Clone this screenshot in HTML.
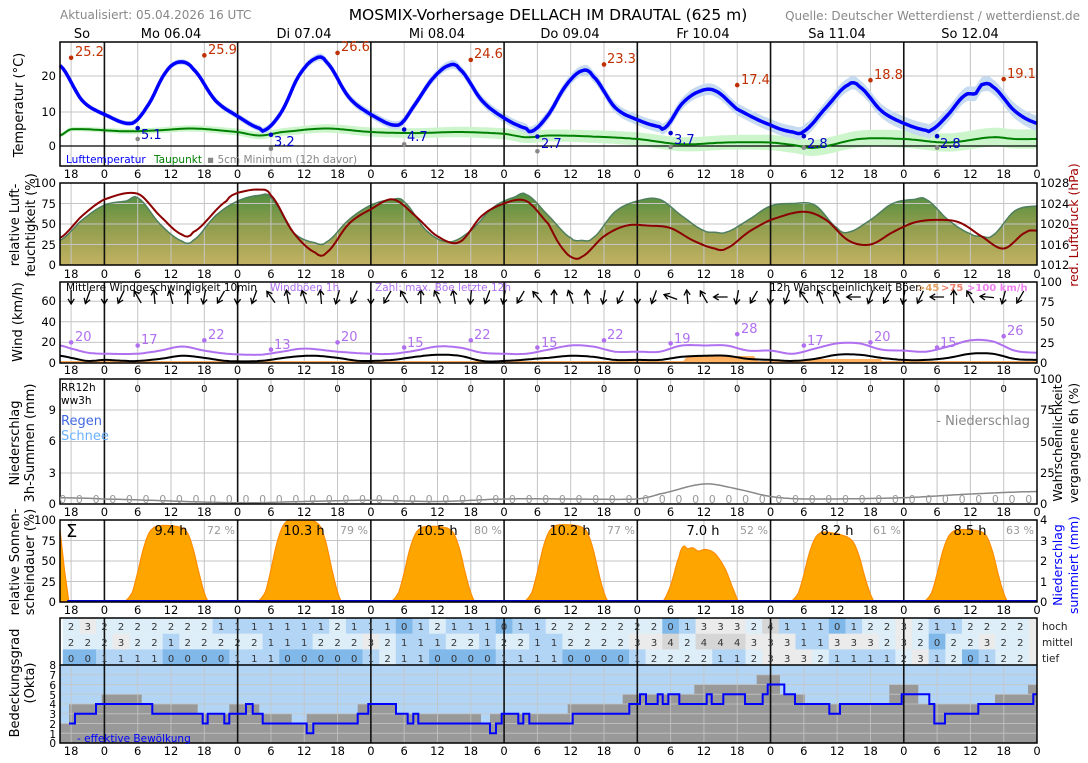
<!DOCTYPE html>
<html><head><meta charset="utf-8">
<style>
html,body{margin:0;padding:0;background:#fff;}
svg{display:block;font-family:"DejaVu Sans","Liberation Sans",sans-serif;}
</style></head>
<body>
<svg id="s" width="1088" height="763" viewBox="0 0 1088 763" xmlns="http://www.w3.org/2000/svg">
<defs>
<linearGradient id="hg" x1="0" y1="183" x2="0" y2="265" gradientUnits="userSpaceOnUse">
<stop offset="0" stop-color="#3f8a3c"/><stop offset="0.5" stop-color="#8c9c4c"/><stop offset="1" stop-color="#c2b262"/>
</linearGradient>
</defs>
<g id="g"></g>
<g id="txt">
<text x="60" y="19" font-size="12" fill="#888">Aktualisiert: 05.04.2026 16 UTC</text>
<text x="548" y="20" font-size="15.5" text-anchor="middle" fill="#000">MOSMIX-Vorhersage DELLACH IM DRAUTAL (625 m)</text>
<text x="1080" y="20" font-size="12" text-anchor="end" fill="#888">Quelle: Deutscher Wetterdienst / wetterdienst.de</text>
<g font-size="13" text-anchor="middle">
<text x="82" y="38">So</text><text x="171" y="38">Mo 06.04</text><text x="304" y="38">Di 07.04</text><text x="437" y="38">Mi 08.04</text><text x="570" y="38">Do 09.04</text><text x="703" y="38">Fr 10.04</text><text x="837" y="38">Sa 11.04</text><text x="970" y="38">So 12.04</text>
</g>
<g font-size="11.5" text-anchor="middle" fill="#000">
<text y="178"><tspan x="71.1">18</tspan><tspan x="104.4">0</tspan><tspan x="137.7">6</tspan><tspan x="171">12</tspan><tspan x="204.3">18</tspan><tspan x="237.6">0</tspan><tspan x="270.9">6</tspan><tspan x="304.2">12</tspan><tspan x="337.6">18</tspan><tspan x="370.9">0</tspan><tspan x="404.2">6</tspan><tspan x="437.5">12</tspan><tspan x="470.8">18</tspan><tspan x="504.1">0</tspan><tspan x="537.4">6</tspan><tspan x="570.7">12</tspan><tspan x="604">18</tspan><tspan x="637.3">0</tspan><tspan x="670.6">6</tspan><tspan x="703.9">12</tspan><tspan x="737.2">18</tspan><tspan x="770.5">0</tspan><tspan x="803.8">6</tspan><tspan x="837.2">12</tspan><tspan x="870.5">18</tspan><tspan x="903.8">0</tspan><tspan x="937.1">6</tspan><tspan x="970.4">12</tspan><tspan x="1003.7">18</tspan><tspan x="1037">0</tspan></text>
<text y="278"><tspan x="71.1">18</tspan><tspan x="104.4">0</tspan><tspan x="137.7">6</tspan><tspan x="171">12</tspan><tspan x="204.3">18</tspan><tspan x="237.6">0</tspan><tspan x="270.9">6</tspan><tspan x="304.2">12</tspan><tspan x="337.6">18</tspan><tspan x="370.9">0</tspan><tspan x="404.2">6</tspan><tspan x="437.5">12</tspan><tspan x="470.8">18</tspan><tspan x="504.1">0</tspan><tspan x="537.4">6</tspan><tspan x="570.7">12</tspan><tspan x="604">18</tspan><tspan x="637.3">0</tspan><tspan x="670.6">6</tspan><tspan x="703.9">12</tspan><tspan x="737.2">18</tspan><tspan x="770.5">0</tspan><tspan x="803.8">6</tspan><tspan x="837.2">12</tspan><tspan x="870.5">18</tspan><tspan x="903.8">0</tspan><tspan x="937.1">6</tspan><tspan x="970.4">12</tspan><tspan x="1003.7">18</tspan><tspan x="1037">0</tspan></text>
<text y="374"><tspan x="71.1">18</tspan><tspan x="104.4">0</tspan><tspan x="137.7">6</tspan><tspan x="171">12</tspan><tspan x="204.3">18</tspan><tspan x="237.6">0</tspan><tspan x="270.9">6</tspan><tspan x="304.2">12</tspan><tspan x="337.6">18</tspan><tspan x="370.9">0</tspan><tspan x="404.2">6</tspan><tspan x="437.5">12</tspan><tspan x="470.8">18</tspan><tspan x="504.1">0</tspan><tspan x="537.4">6</tspan><tspan x="570.7">12</tspan><tspan x="604">18</tspan><tspan x="637.3">0</tspan><tspan x="670.6">6</tspan><tspan x="703.9">12</tspan><tspan x="737.2">18</tspan><tspan x="770.5">0</tspan><tspan x="803.8">6</tspan><tspan x="837.2">12</tspan><tspan x="870.5">18</tspan><tspan x="903.8">0</tspan><tspan x="937.1">6</tspan><tspan x="970.4">12</tspan><tspan x="1003.7">18</tspan><tspan x="1037">0</tspan></text>
<text y="516"><tspan x="71.1">18</tspan><tspan x="104.4">0</tspan><tspan x="137.7">6</tspan><tspan x="171">12</tspan><tspan x="204.3">18</tspan><tspan x="237.6">0</tspan><tspan x="270.9">6</tspan><tspan x="304.2">12</tspan><tspan x="337.6">18</tspan><tspan x="370.9">0</tspan><tspan x="404.2">6</tspan><tspan x="437.5">12</tspan><tspan x="470.8">18</tspan><tspan x="504.1">0</tspan><tspan x="537.4">6</tspan><tspan x="570.7">12</tspan><tspan x="604">18</tspan><tspan x="637.3">0</tspan><tspan x="670.6">6</tspan><tspan x="703.9">12</tspan><tspan x="737.2">18</tspan><tspan x="770.5">0</tspan><tspan x="803.8">6</tspan><tspan x="837.2">12</tspan><tspan x="870.5">18</tspan><tspan x="903.8">0</tspan><tspan x="937.1">6</tspan><tspan x="970.4">12</tspan><tspan x="1003.7">18</tspan><tspan x="1037">0</tspan></text>
<text y="614"><tspan x="71.1">18</tspan><tspan x="104.4">0</tspan><tspan x="137.7">6</tspan><tspan x="171">12</tspan><tspan x="204.3">18</tspan><tspan x="237.6">0</tspan><tspan x="270.9">6</tspan><tspan x="304.2">12</tspan><tspan x="337.6">18</tspan><tspan x="370.9">0</tspan><tspan x="404.2">6</tspan><tspan x="437.5">12</tspan><tspan x="470.8">18</tspan><tspan x="504.1">0</tspan><tspan x="537.4">6</tspan><tspan x="570.7">12</tspan><tspan x="604">18</tspan><tspan x="637.3">0</tspan><tspan x="670.6">6</tspan><tspan x="703.9">12</tspan><tspan x="737.2">18</tspan><tspan x="770.5">0</tspan><tspan x="803.8">6</tspan><tspan x="837.2">12</tspan><tspan x="870.5">18</tspan><tspan x="903.8">0</tspan><tspan x="937.1">6</tspan><tspan x="970.4">12</tspan><tspan x="1003.7">18</tspan><tspan x="1037">0</tspan></text>
<text y="755"><tspan x="71.1">18</tspan><tspan x="104.4">0</tspan><tspan x="137.7">6</tspan><tspan x="171">12</tspan><tspan x="204.3">18</tspan><tspan x="237.6">0</tspan><tspan x="270.9">6</tspan><tspan x="304.2">12</tspan><tspan x="337.6">18</tspan><tspan x="370.9">0</tspan><tspan x="404.2">6</tspan><tspan x="437.5">12</tspan><tspan x="470.8">18</tspan><tspan x="504.1">0</tspan><tspan x="537.4">6</tspan><tspan x="570.7">12</tspan><tspan x="604">18</tspan><tspan x="637.3">0</tspan><tspan x="670.6">6</tspan><tspan x="703.9">12</tspan><tspan x="737.2">18</tspan><tspan x="770.5">0</tspan><tspan x="803.8">6</tspan><tspan x="837.2">12</tspan><tspan x="870.5">18</tspan><tspan x="903.8">0</tspan><tspan x="937.1">6</tspan><tspan x="970.4">12</tspan><tspan x="1003.7">18</tspan><tspan x="1037">0</tspan></text>
</g>
<g font-size="11.5" text-anchor="end">
<text x="56" y="80">20</text><text x="56" y="116">10</text><text x="56" y="150">0</text>
<text x="56" y="187">100</text><text x="56" y="208">75</text><text x="56" y="228">50</text><text x="56" y="249">25</text><text x="56" y="269">0</text>
<text x="56" y="305">60</text><text x="56" y="326">40</text><text x="56" y="346">20</text><text x="56" y="367">0</text>
<text x="56" y="414">9</text><text x="56" y="445">6</text><text x="56" y="477">3</text><text x="56" y="508">0</text>
<text x="56" y="524">100</text><text x="56" y="545">75</text><text x="56" y="565">50</text><text x="56" y="586">25</text><text x="56" y="606">0</text>
</g>
<g font-size="10.5" text-anchor="end">
<text x="56" y="669">8</text><text x="56" y="679">7</text><text x="56" y="689">6</text><text x="56" y="699">5</text><text x="56" y="708">4</text><text x="56" y="718">3</text><text x="56" y="728">2</text><text x="56" y="738">1</text><text x="56" y="747">0</text>
</g>
<g font-size="11.5">
<text x="1040" y="187">1028</text><text x="1040" y="208">1024</text><text x="1040" y="228">1020</text><text x="1040" y="249">1016</text><text x="1040" y="269">1012</text>
<text x="1040" y="286">100</text><text x="1040" y="306">75</text><text x="1040" y="326">50</text><text x="1040" y="347">25</text><text x="1040" y="367">0</text>
<text x="1040" y="383">100</text><text x="1040" y="414">75</text><text x="1040" y="446">50</text><text x="1040" y="477">25</text><text x="1040" y="508">0</text>
<text x="1040" y="524">4</text><text x="1040" y="545">3</text><text x="1040" y="565">2</text><text x="1040" y="586">1</text><text x="1040" y="606">0</text>
</g>
<g font-size="10.5" fill="#222">
<text x="1042" y="630">hoch</text><text x="1042" y="646">mittel</text><text x="1042" y="662">tief</text>
</g>
<g font-size="13" text-anchor="middle">
<text transform="translate(23,105) rotate(-90)">Temperatur (°C)</text>
<text transform="translate(19,225) rotate(-90)">relative Luft-</text>
<text transform="translate(35,225) rotate(-90)">feuchtigkeit (%)</text>
<text transform="translate(22,322) rotate(-90)">Wind (km/h)</text>
<text transform="translate(19,443) rotate(-90)">Niederschlag</text>
<text transform="translate(34,443) rotate(-90)">3h-Summen (mm)</text>
<text transform="translate(19,562) rotate(-90)">relative Sonnen-</text>
<text transform="translate(34,562) rotate(-90)">scheindauer (%)</text>
<text transform="translate(19,683) rotate(-90)">Bedeckungsgrad</text>
<text transform="translate(34,683) rotate(-90)">(Okta)</text>
</g>
<g font-size="12.5" text-anchor="middle">
<text transform="translate(1078,225) rotate(-90)" fill="#a00000">red. Luftdruck (hPa)</text>
<text transform="translate(1062,443) rotate(-90)">Wahrscheinlichkeit</text>
<text transform="translate(1078,443) rotate(-90)">vergangene 6h (%)</text>
<text transform="translate(1062,565) rotate(-90)" fill="#0000ff">Niederschlag</text>
<text transform="translate(1078,565) rotate(-90)" fill="#0000ff">summiert (mm)</text>
</g>
<g font-size="13" fill="#c03000">
<text x="75" y="56">25.2</text><text x="208" y="54">25.9</text><text x="341" y="51">26.6</text><text x="474" y="58">24.6</text><text x="607" y="63">23.3</text><text x="741" y="84">17.4</text><text x="874" y="79">18.8</text><text x="1007" y="78">19.1</text>
</g>
<g font-size="13" fill="#0000cc">
<text x="141" y="139">5.1</text><text x="274" y="146">3.2</text><text x="407" y="141">4.7</text><text x="541" y="148">2.7</text><text x="674" y="144">3.7</text><text x="807" y="148">2.8</text><text x="940" y="148">2.8</text>
</g>
<g font-size="10.5">
<text x="66" y="163" fill="#0000ff">Lufttemperatur</text>
<text x="154" y="163" fill="#008000">Taupunkt</text>
<text x="207" y="163" fill="#888">▪ 5cm Minimum (12h davor)</text>
</g>
<g font-size="10.5">
<text x="66" y="291">Mittlere Windgeschwindigkeit 10min</text>
<text x="270" y="291" fill="#b070f0">Windböen 1h</text>
<text x="375" y="291" fill="#b070f0">Zahl: max. Böe letzte 12h</text>
<text x="770" y="291">12h Wahrscheinlichkeit Böen</text>
</g>
<g font-size="10" font-weight="bold">
<text x="917" y="291" fill="#e0a060">&gt;45</text>
<text x="941" y="291" fill="#f08070">&gt;75</text>
<text x="967" y="291" fill="#ee82ee">&gt;100 km/h</text>
</g>
<g font-size="13" fill="#b070f0">
<text x="75" y="341">20</text><text x="141" y="344">17</text><text x="208" y="339">22</text><text x="274" y="349">13</text><text x="341" y="341">20</text><text x="407" y="347">15</text><text x="474" y="339">22</text><text x="541" y="347">15</text><text x="607" y="339">22</text><text x="674" y="343">19</text><text x="741" y="333">28</text><text x="807" y="345">17</text><text x="874" y="341">20</text><text x="940" y="347">15</text><text x="1007" y="335">26</text>
</g>
<g font-size="10.5">
<text x="61" y="391">RR12h</text><text x="61" y="404">ww3h</text>
</g>
<text x="61" y="425" font-size="13" fill="#4169e1">Regen</text>
<text x="61" y="440" font-size="13" fill="#6ab0ff">Schnee</text>
<text x="1030" y="425" font-size="13" fill="#888" text-anchor="end">- Niederschlag</text>
<text y="392" font-size="10" text-anchor="middle" x="137.7 204.3 270.9 337.6 404.2 470.8 537.4 604 670.6 737.2 803.8 870.5 937.1 1003.7">00000000000000</text>
<text y="503" font-size="11" fill="#999" text-anchor="middle" x="62.8 79.4 96.1 112.7 129.4 146 162.7 179.4 196 212.7 229.3 246 262.6 279.3 295.9 312.6 329.2 345.9 362.5 379.2 395.8 412.5 429.1 445.8 462.5 479.1 495.8 512.4 529.1 545.7 562.4 579 595.7 612.3 629 645.6 662.3 678.9 695.6 712.3 728.9 745.6 762.2 778.9 795.5 812.2 828.8 845.5 862.1 878.8 895.4 912.1 928.7 945.4 962.1 978.7 995.4 1012 1028.7">00000000000000000000000000000000000000000000000000000000000</text>
<text x="66" y="537" font-size="18">Σ</text>
<g font-size="13" text-anchor="middle">
<text x="171" y="535">9.4 h</text><text x="304" y="535">10.3 h</text><text x="437" y="535">10.5 h</text><text x="570" y="535">10.2 h</text><text x="703" y="535">7.0 h</text><text x="837" y="535">8.2 h</text><text x="970" y="535">8.5 h</text>
</g>
<g font-size="11" fill="#999" text-anchor="middle">
<text x="221" y="534">72 %</text><text x="354" y="534">79 %</text><text x="488" y="534">80 %</text><text x="621" y="534">77 %</text><text x="754" y="534">52 %</text><text x="887" y="534">61 %</text><text x="1020" y="534">63 %</text>
</g>
<g font-size="10" fill="#333" text-anchor="middle">
<text y="630" x="71.1 87.8 104.4 121.1 137.7 154.4 171 187.7 204.3 221 237.6 254.3 270.9 287.6 304.2 320.9 337.6 354.2 370.9 387.5 404.2 420.8 437.5 454.1 470.8 487.4 504.1 520.7 537.4 554 570.7 587.4 604 620.7 637.3 654 670.6 687.3 703.9 720.6 737.2 753.9 770.5 787.2 803.8 820.5 837.2 853.8 870.5 887.1 903.8 920.4 937.1 953.7 970.4 987 1003.7 1020.3">2322222221111111211101211101122222220133324111012232112222</text>
<text y="646" x="71.1 87.8 104.4 121.1 137.7 154.4 171 187.7 204.3 221 237.6 254.3 270.9 287.6 304.2 320.9 337.6 354.2 370.9 387.5 404.2 420.8 437.5 454.1 470.8 487.4 504.1 520.7 537.4 554 570.7 587.4 604 620.7 637.3 654 670.6 687.3 703.9 720.6 737.2 753.9 770.5 787.2 803.8 820.5 837.2 853.8 870.5 887.1 903.8 920.4 937.1 953.7 970.4 987 1003.7 1020.3">2223221222221112223211122122112222334244433311333232022322</text>
<text y="662" x="71.1 87.8 104.4 121.1 137.7 154.4 171 187.7 204.3 221 237.6 254.3 270.9 287.6 304.2 320.9 337.6 354.2 370.9 387.5 404.2 420.8 437.5 454.1 470.8 487.4 504.1 520.7 537.4 554 570.7 587.4 604 620.7 637.3 654 670.6 687.3 703.9 720.6 737.2 753.9 770.5 787.2 803.8 820.5 837.2 853.8 870.5 887.1 903.8 920.4 937.1 953.7 970.4 987 1003.7 1020.3">0011110000111000001211000011110000122221123332111123120122</text>
</g>
<text x="77" y="742" font-size="10.5" fill="#0000ff">- effektive Bewölkung</text>
</g>
</svg>
<script>
(function(){
var NS="http://www.w3.org/2000/svg",G=document.getElementById("g");
function el(tag,a){var e=document.createElementNS(NS,tag);for(var k in a)e.setAttribute(k,a[k]);G.appendChild(e);return e;}
function X(t){return 60+(t-16)*977/176;}
function cr(p,t){var n=p.length;if(t<=p[0][0])return p[0][1];if(t>=p[n-1][0])return p[n-1][1];
 var i=0;while(i<n-2&&p[i+1][0]<t)i++;
 var p0=p[Math.max(i-1,0)][1],p1=p[i][1],p2=p[i+1][1],p3=p[Math.min(i+2,n-1)][1];
 var u=(t-p[i][0])/(p[i+1][0]-p[i][0]);
 return 0.5*(2*p1+(-p0+p2)*u+(2*p0-5*p1+4*p2-p3)*u*u+(-p0+3*p1-3*p2+p3)*u*u*u);}
function samp(p,yf,off){var a=[];for(var t=16;t<=192.001;t+=0.5){a.push([X(t),yf(cr(p,t)+(off?off(t):0))]);}return a;}
function pth(a){return a.map(function(q,i){return(i?"L":"M")+q[0].toFixed(1)+","+q[1].toFixed(1);}).join("");}
function band(p,yf,w){var up=samp(p,yf,function(t){return w(t);}),lo=samp(p,yf,function(t){return -w(t);}).reverse();return pth(up.concat(lo))+"Z";}
function grid(top,bot,hy){
 hy.forEach(function(y){el("line",{x1:60,x2:1037,y1:y,y2:y,stroke:"#c4c4c4","stroke-width":1});});
 for(var t=18;t<192;t+=6){if(t%24)el("line",{x1:X(t),x2:X(t),y1:top,y2:bot,stroke:"#c4c4c4","stroke-width":1});}
}
function days(top,bot){for(var t=24;t<192;t+=24)el("line",{x1:X(t),x2:X(t),y1:top,y2:bot,stroke:"#111","stroke-width":1.6});}
function frame(top,bot){el("rect",{x:60,y:top,width:977,height:bot-top,fill:"none",stroke:"#000","stroke-width":1.5});}

var TY=function(v){return 146-v*3.5;};
var T=[[16,23],[20,13],[24,9],[29,6.5],[32,12],[35,21],[37.5,24],[40,22],[44,13],[48,8.5],[52,5],[53,4.6],[56,10],[59,20],[62,25],[64,24],[68,14],[72,9],[77,6],[80,12],[83,19],[86,23],[88,22],[92,13],[96,8],[100,5],[101,4.2],[104,9],[107,17],[110,21.5],[112,20],[116,11],[120,7.5],[124,5.5],[125,5.2],[128,12],[131,15.5],[134,15.8],[138,10.5],[144,6],[148,4],[150,4.2],[154,11],[158,17.5],[160,17],[164,10],[168,6.5],[172,4.5],[173,4.6],[176,9],[179,14.5],[181,15],[182,17.5],[184,17],[188,10],[192,6.5]];
var D=[[16,3],[18,4.8],[28,4.2],[34,4.5],[40,5],[48,4],[52,3],[56,4],[64,5],[72,4],[80,3.7],[88,4],[96,3.5],[100,2.5],[104,3],[112,2.7],[120,2],[128,0.5],[136,1],[144,1],[148,0.3],[152,-0.5],[160,2],[168,2],[176,1],[184,2.5],[188,2],[192,2]];
grid(42,166,[76,112]);
el("path",{d:band(D,TY,function(t){return 0.6+(t-16)/176*2.2;}),fill:"#ccf5cc"});
el("path",{d:band(T,TY,function(t){return 0.6+(t-16)/176*1.6;}),fill:"#c6dbf0"});
el("line",{x1:60,x2:1037,y1:146,y2:146,stroke:"#000","stroke-width":1.3});
days(42,166);
el("path",{d:pth(samp(D,TY)),fill:"none",stroke:"#008000","stroke-width":2});
el("path",{d:pth(samp(T,TY)),fill:"none",stroke:"#0000ff","stroke-width":3.5,"stroke-linejoin":"round"});
[[18,25.2],[42,25.9],[66,26.6],[90,24.6],[114,23.3],[138,17.4],[162,18.8],[186,19.1]].forEach(function(q){el("circle",{cx:X(q[0]),cy:TY(q[1]),r:2.3,fill:"#c03000"});});
[[30,5.1],[54,3.2],[78,4.7],[102,2.7],[126,3.7],[150,2.8],[174,2.8]].forEach(function(q){el("circle",{cx:X(q[0]),cy:TY(q[1]),r:2.3,fill:"#0000cc"});});
[[30,2],[54,-0.8],[78,0.5],[102,-1.5],[126,-0.3],[150,-0.5],[174,-0.5]].forEach(function(q){el("circle",{cx:X(q[0]),cy:TY(q[1]),r:2.3,fill:"#888"});});
frame(42,166);

var HY=function(v){return 265-v*0.82;};
var H=[[16,30],[20,55],[24,73],[28,78],[30,82],[34,50],[38,29],[40,30],[44,60],[48,78],[52,85],[54,82],[58,40],[62,27],[64,28],[68,55],[72,73],[76,80],[78,77],[82,42],[86,28],[90,42],[94,70],[98,83],[100,86],[104,60],[108,33],[110,30],[112,33],[116,65],[120,78],[124,80],[128,60],[132,42],[134,40],[136,40],[140,55],[144,72],[148,75],[152,73],[156,45],[158,40],[162,55],[166,75],[170,80],[172,80],[176,55],[180,38],[182,35],[184,36],[188,66],[192,72]];
var P=[[16,33],[20,60],[24,80],[30,87],[34,60],[38,37],[40,40],[46,78],[48,88],[52,92],[54,85],[58,40],[62,15],[64,15],[68,50],[72,68],[76,80],[80,60],[84,35],[88,28],[92,60],[96,75],[100,78],[104,50],[106,25],[108,10],[110,10],[114,35],[118,48],[122,48],[126,45],[130,30],[134,20],[136,20],[140,40],[144,55],[150,65],[154,55],[158,30],[162,25],[166,40],[170,52],[174,55],[178,52],[182,35],[186,20],[190,40],[192,42]];
var ha=samp(H,HY);
el("path",{d:pth(ha)+"L1037,265L60,265Z",fill:"url(#hg)"});
grid(183,265,[203.5,224,244.5]);
el("path",{d:pth(ha),fill:"none",stroke:"#4f7f5f","stroke-width":1.5});
days(183,265);
el("path",{d:pth(samp(P,HY)),fill:"none",stroke:"#8b0000","stroke-width":2});
frame(183,265);

var WY=function(v){return 363-v*1.03;};
var Gu=[[16,17],[18,14],[21,10],[24,9],[30,9],[34,12],[38,16],[42,12],[46,9],[52,8],[56,11],[60,14],[66,11],[72,9],[76,9],[80,12],[84,16],[88,15],[92,10],[96,9],[100,9],[104,13],[108,17],[112,16],[116,11],[120,11],[124,11],[128,17],[132,17],[136,17],[140,12],[144,12],[148,9],[152,14],[156,19],[160,19],[164,13],[168,12],[172,11],[176,16],[180,22],[184,21],[188,12],[192,10]];
var M=[[16,7],[18,5],[21,2],[24,3],[28,2],[30,2],[34,4],[38,7],[42,5],[46,2],[52,2],[58,6],[62,7],[66,5],[70,2],[76,3],[80,6],[84,8],[88,7],[92,2],[96,2],[104,5],[108,7],[112,6],[116,3],[120,3],[124,3],[128,6],[132,7],[136,7],[140,4],[144,3],[148,2],[152,4],[156,8],[160,8],[164,5],[168,3],[172,3],[176,5],[180,9],[184,9],[188,4],[192,3]];
grid(282,363,[301.2,321.8,342.4]);
el("rect",{x:60,y:361,width:977,height:2,fill:"#ffb060"});
el("path",{d:"M"+X(128)+",363L"+X(129)+",356L"+X(141)+",356L"+X(142)+",363Z",fill:"#ffb060"});
el("rect",{x:X(150),y:359,width:X(164)-X(150),height:4,fill:"#ffb060"});
days(282,363);
el("path",{d:pth(samp(Gu,WY)),fill:"none",stroke:"#b070f0","stroke-width":2});
el("path",{d:pth(samp(M,WY)),fill:"none",stroke:"#000","stroke-width":2});
[[18,20],[30,17],[42,22],[54,13],[66,20],[78,15],[90,22],[102,15],[114,22],[126,19],[138,28],[150,17],[162,20],[174,15],[186,26]].forEach(function(q){el("circle",{cx:X(q[0]),cy:WY(q[1]),r:2.3,fill:"#b070f0"});});
var ang=[90,110,90,115,240,265,255,270, 100,120,95,110,235,260,250,265, 105,115,90,120,240,270,245,260, 95,110,100,120,230,270,250,265, 100,115,90,110,200,265,240,180, 100,120,95,110,235,250,245,180, 110,120,100,115,180,270,240,185, 105,120];
for(var k=0;k<58;k++){var t=18+3*k,cx=X(t),cy=297,a=ang[k%ang.length]*Math.PI/180,c=Math.cos(a),s=Math.sin(a);
 var hx=cx+c*7,hy=cy+s*7,tx=cx-c*7,ty=cy-s*7;
 var a1=a+Math.PI-0.55,a2=a+Math.PI+0.55;
 el("path",{d:"M"+tx.toFixed(1)+","+ty.toFixed(1)+"L"+hx.toFixed(1)+","+hy.toFixed(1)+"M"+(hx+Math.cos(a1)*6).toFixed(1)+","+(hy+Math.sin(a1)*6).toFixed(1)+"L"+hx.toFixed(1)+","+hy.toFixed(1)+"L"+(hx+Math.cos(a2)*6).toFixed(1)+","+(hy+Math.sin(a2)*6).toFixed(1),fill:"none",stroke:"#000","stroke-width":1.3});}
frame(282,363);

var PY=function(v){return 504-v*1.25;};
var PR=[[16,5],[24,4],[48,1],[60,2],[72,3],[84,2],[96,4],[108,4],[120,4],[124,8],[132,16],[138,12],[144,6],[150,4],[168,5],[180,8],[192,10]];
grid(379,504,[410,441.5,473]);
days(379,504);
el("path",{d:pth(samp(PR,PY)),fill:"none",stroke:"#888","stroke-width":1.5});
frame(379,504);

var SY=function(v){return 602-v*0.82;};
var base=[[3.5,0],[5,12],[6,38],[7,68],[8,88],[9,96],[10,98],[12,98],[13,97],[14,95],[15,88],[16,68],[17,38],[18,12],[18.8,0]];
var fri=[[4.5,0],[6,20],[7.5,55],[8.3,68],[9,65],[10,66],[11,62],[12,64],[13,63],[14,59],[15,50],[16,38],[17,20],[18.3,0]];
var sc=[0.95,1.03,0.94,0.96,null,0.88,0.9];
grid(520,602,[540.5,561,581.5]);
function sunpoly(pts,d,f,tilt){var a=[];for(var h=pts[0][0];h<=pts[pts.length-1][0]+0.001;h+=0.25){var v=cr(pts,h)*f;if(tilt)v*=1-tilt*(h-9)/10*(h>9?1:0);v=Math.max(0,Math.min(100,v));a.push([X(24*d+h),SY(v)]);}
 return "M"+X(24*d+pts[0][0])+",602"+pth(a).replace("M","L")+"L"+X(24*d+pts[pts.length-1][0])+",602Z";}
for(var d=1;d<=7;d++){var dd=(d==5)?sunpoly(fri,d,1,0):sunpoly(base,d,sc[d-1],(d==6?0.12:0));el("path",{d:dd,fill:"#ffa500",stroke:"#ff8c00","stroke-width":1.2});}
el("path",{d:"M60,530L"+X(16.8)+",570L"+X(17.6)+",602L60,602Z",fill:"#ffa500",stroke:"#ff8c00","stroke-width":1.2});
days(520,602);
el("line",{x1:X(17.3),x2:1037,y1:601,y2:601,stroke:"#0000cc","stroke-width":2});
frame(520,602);

var rows=["2322222221111111211101211101122222220133324111012232112222","2223221222221112223211122122112222334244433311333232022322","0011110000111000001211000011110000122221123332111123120122"];
var col={"0":"#80b8ea","1":"#b3d5f5","2":"#ddeef8","3":"#ebebeb","4":"#d6d6d6"};
rows.forEach(function(r,ri){var y0=618+ri*15.7;for(var k=0;k<58;k++){var xc=71.1+16.653*k,x0=Math.max(60,xc-8.33),x1=(k==57)?1037:xc+8.33;
 el("rect",{x:x0.toFixed(1),y:y0.toFixed(1),width:(x1-x0+0.4).toFixed(1),height:15.9,fill:col[r[k]]});}});
el("rect",{x:1028.6,y:618,width:8.4,height:47,fill:"#ebebeb"});

var CY=function(v){return 743-v*9.75;};
el("rect",{x:60,y:665,width:977,height:78,fill:"#b3d5f5"});
function steps(arr,end){var s="";for(var i=0;i<arr.length;i++){var x0=arr[i][0],x1=(i<arr.length-1)?arr[i+1][0]:end,y=CY(arr[i][1]);s+=(i?"L":"M")+x0+","+y+"L"+x1+","+y;}return s;}
var grey=[[60,2],[69,4],[101.7,5],[141.7,4],[197.7,3],[229.3,4],[259.3,3],[291.7,2],[306.7,3],[357.7,4],[396,3],[481,2],[490,3],[567.7,4],[622.7,5],[694.3,6],[756.7,7],[780,5],[805,4],[889.3,6],[918.3,4],[995,5],[1028,6]];
el("path",{d:"M60,743L"+steps(grey,1037).slice(1)+"L1037,743Z",fill:"#999"});
[1,2,3,4,5,6,7].forEach(function(v){el("line",{x1:60,x2:1037,y1:CY(v),y2:CY(v),stroke:"#c4c4c4","stroke-width":1,"stroke-opacity":0.8});});
for(var t=18;t<192;t+=6){if(t%24)el("line",{x1:X(t),x2:X(t),y1:665,y2:743,stroke:"#c4c4c4","stroke-width":1,"stroke-opacity":0.8});}
days(618,743);
var blue=[[69,2],[75,3],[96,4],[152.3,3],[202.7,2],[207.7,3],[224.3,2],[229.3,3],[246,4],[252.7,3],[262.7,2],[306.7,1],[313.3,2],[357.7,3],[368.3,4],[396,3],[407.7,2],[413.3,3],[418.3,2],[490,1],[496,2],[501.7,3],[518.3,2],[523.3,3],[529.3,2],[572.7,3],[629.3,4],[640,5],[646,4],[657.7,5],[662.7,4],[668.3,5],[679.3,4],[706.7,5],[711.7,4],[723.3,5],[745,4],[762.7,5],[767.7,6],[784.3,5],[795,4],[829.3,3],[840,4],[901.7,5],[929.3,4],[934.3,2],[945,3],[978.3,4],[1033.3,5]];
el("path",{d:steps(blue,1037),fill:"none",stroke:"#0000ff","stroke-width":2});
el("line",{x1:60,x2:1037,y1:665,y2:665,stroke:"#000","stroke-width":1.5});
frame(618,743);
})();
</script>
</body></html>
